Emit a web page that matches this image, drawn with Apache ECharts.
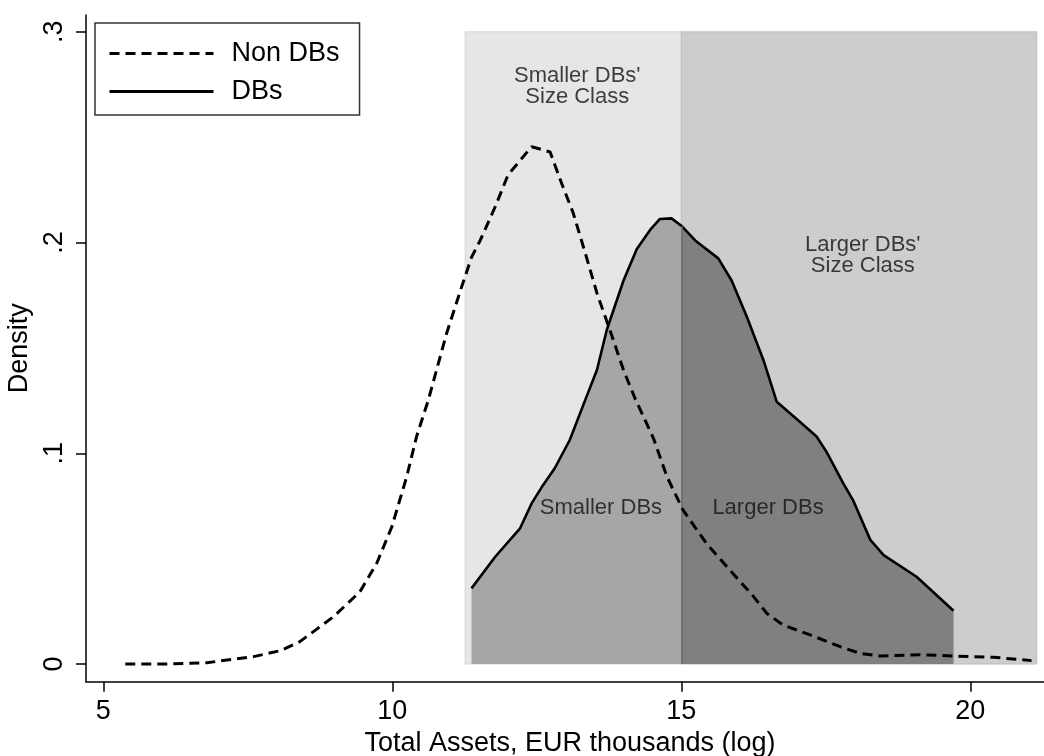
<!DOCTYPE html>
<html><head><meta charset="utf-8">
<script src="https://cdn.jsdelivr.net/npm/echarts@6/dist/echarts.min.js"></script>
<style>html,body{margin:0;padding:0;background:#fff}#chart{width:1044px;height:756px}</style>
</head><body><div id="chart"></div>
<script>
const seriesNames = ['Non DBs', 'DBs'];
const nonDbX = [5.38, 6.10, 6.79, 7.60, 8.06, 8.40, 8.98, 9.44, 9.73, 9.99, 10.25, 10.42, 10.62, 10.94, 11.20, 11.37, 11.52, 11.78, 12.00, 12.09, 12.41, 12.73, 12.93, 13.13, 13.36, 13.54, 13.77, 14.00, 14.20, 14.52, 14.75, 15.03, 15.44, 15.84, 16.25, 16.48, 16.76, 17.23, 17.75, 18.10, 18.44, 19.13, 19.71, 20.40, 21.06];
const nonDbY = [0.000, 0.000, 0.0006, 0.0035, 0.0063, 0.0106, 0.0224, 0.0343, 0.0478, 0.065, 0.089, 0.108, 0.125, 0.157, 0.179, 0.193, 0.201, 0.217, 0.232, 0.235, 0.2455, 0.243, 0.228, 0.214, 0.193, 0.176, 0.158, 0.1395, 0.126, 0.107, 0.089, 0.073, 0.057, 0.0446, 0.032, 0.024, 0.0185, 0.0138, 0.0082, 0.005, 0.0038, 0.0044, 0.0038, 0.0032, 0.0016];
const dbX = [11.37, 11.78, 12.21, 12.41, 12.61, 12.81, 13.07, 13.36, 13.54, 13.71, 14.00, 14.23, 14.46, 14.63, 14.83, 15.00, 15.24, 15.64, 15.87, 16.13, 16.42, 16.65, 17.05, 17.34, 17.51, 17.80, 17.97, 18.27, 18.50, 19.07, 19.71];
const dbY = [0.0359, 0.0509, 0.0644, 0.0762, 0.085, 0.0929, 0.1063, 0.1269, 0.1395, 0.1585, 0.182, 0.197, 0.206, 0.2112, 0.2115, 0.208, 0.201, 0.1925, 0.182, 0.165, 0.1443, 0.1245, 0.115, 0.108, 0.1008, 0.0858, 0.0778, 0.0589, 0.0517, 0.0414, 0.0253];
const xTicks = [5, 10, 15, 20];
const yTicks = [0, 0.1, 0.2, 0.3];
const yTickLabels = ['0', '.1', '.2', '.3'];
const sizeClassBounds = [11.26, 15, 21.15];
const sizeClassTop = 0.3;
const annotationText = ["Smaller DBs'\nSize Class", "Larger DBs'\nSize Class", 'Smaller DBs', 'Larger DBs'];
const annotationX = [13.2, 18.14, 13.61, 16.5];
const annotationY = [0.274, 0.194, 0.074, 0.074];

const FONT = '"Liberation Sans", Arial, Helvetica, sans-serif';
const nonDb = nonDbX.map((x, i) => [x, nonDbY[i]]);
const db = dbX.map((x, i) => [x, dbY[i]]);
const split = sizeClassBounds[1];
const dbSmall = db.filter(p => p[0] <= split);
const dbLarge = db.filter(p => p[0] >= split);
const dbAtSplit = db.find(p => p[0] === split)[1];

const chart = echarts.init(document.getElementById('chart'), null, {renderer: 'canvas'});
chart.setOption({
  animation: false,
  textStyle: {fontFamily: FONT},
  grid: {left: 86, right: 0, top: 15, bottom: 74.3, containLabel: false, outerBoundsMode: 'none'},
  legend: {
    data: seriesNames, orient: 'vertical', left: 95, top: 23,
    itemWidth: 104, itemHeight: 20, itemGap: 11,
    padding: [17, 20, 10, 13],
    borderColor: '#333', borderWidth: 1.5, backgroundColor: '#fff',
    lineStyle: {width: 3},
    itemStyle: {opacity: 0},
    textStyle: {fontSize: 27, fontFamily: FONT, color: '#000', padding: [0, 0, 0, 13]}
  },
  xAxis: {
    type: 'value', min: 4.7, max: 21.275,
    axisLine: {show: true, onZero: false, lineStyle: {color: '#000', width: 1.5}},
    axisTick: {show: true, length: 10, customValues: xTicks, lineStyle: {color: '#000', width: 1.5}},
    axisLabel: {customValues: xTicks, fontSize: 27, margin: 16, color: '#000', fontFamily: FONT},
    splitLine: {show: false},
    name: 'Total Assets, EUR thousands (log)', nameLocation: 'middle', nameGap: 47,
    nameTextStyle: {fontSize: 27, color: '#000', fontFamily: FONT, padding: [0, 0, 0, 10]}
  },
  yAxis: {
    type: 'value', min: -0.0084, max: 0.308,
    axisLine: {show: true, onZero: false, lineStyle: {color: '#000', width: 1.5}},
    axisTick: {show: true, length: 10, customValues: yTicks, lineStyle: {color: '#000', width: 1.5}},
    axisLabel: {
      customValues: yTicks, rotate: 90, fontSize: 27, margin: 18, color: '#000', fontFamily: FONT,
      formatter: v => {
        let best = 0;
        yTicks.forEach((t, i) => { if (Math.abs(t - v) < Math.abs(yTicks[best] - v)) best = i; });
        return yTickLabels[best];
      }
    },
    splitLine: {show: false},
    name: 'Density', nameLocation: 'middle', nameGap: 46, nameRotate: 90,
    nameTextStyle: {fontSize: 27, color: '#000', fontFamily: FONT}
  },
  series: [
    {
      name: 'DBs small fill', type: 'line', data: dbSmall, symbol: 'none', z: 2,
      lineStyle: {width: 0}, areaStyle: {color: '#a6a6a6', opacity: 1},
      markArea: {
        silent: true,
        data: [
          [{xAxis: sizeClassBounds[0], yAxis: 0, itemStyle: {color: '#e6e6e6', borderColor: '#d6d6d6', borderWidth: 1}},
           {xAxis: sizeClassBounds[1], yAxis: sizeClassTop}],
          [{xAxis: sizeClassBounds[1], yAxis: 0, itemStyle: {color: '#cdcdcd', borderColor: '#bdbdbd', borderWidth: 1}},
           {xAxis: sizeClassBounds[2], yAxis: sizeClassTop}]
        ]
      }
    },
    {
      name: 'DBs large fill', type: 'line', data: dbLarge, symbol: 'none', z: 2,
      lineStyle: {width: 0}, areaStyle: {color: '#808080', opacity: 1},
      markLine: {
        silent: true, symbol: 'none', label: {show: false},
        lineStyle: {color: '#6a6a6a', width: 1.5, type: 'solid'},
        data: [[{coord: [split, 0]}, {coord: [split, dbAtSplit]}]]
      }
    },
    {
      name: 'DBs', type: 'line', data: db, symbol: 'none', z: 4,
      lineStyle: {color: '#000', width: 2.6, type: 'solid'}, itemStyle: {color: '#000'}
    },
    {
      name: 'Non DBs', type: 'line', data: nonDb, symbol: 'none', z: 5,
      lineStyle: {color: '#000', width: 3, type: [10, 6]}, itemStyle: {color: '#000'}
    },
    {
      name: 'annotations', type: 'scatter', z: 6, symbolSize: 1, silent: true,
      itemStyle: {color: 'rgba(0,0,0,0)'},
      data: annotationX.map((x, i) => ({value: [x, annotationY[i]], name: annotationText[i]})),
      label: {show: true, position: 'inside', formatter: p => p.name, fontSize: 22, lineHeight: 20.6,
              color: '#111', fontFamily: FONT, align: 'center', verticalAlign: 'middle'}
    }
  ]
});
</script></body></html>
